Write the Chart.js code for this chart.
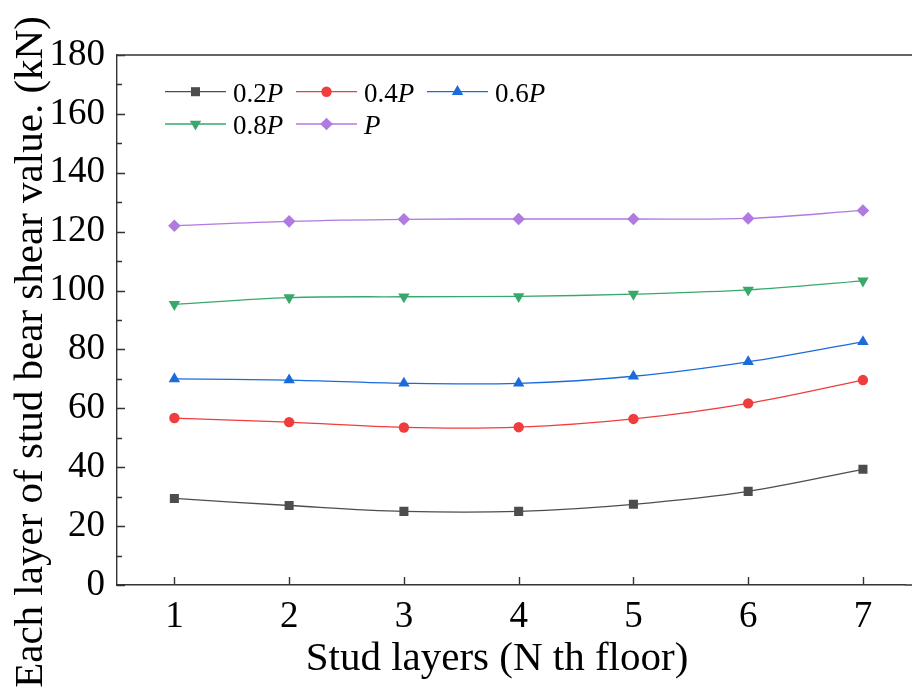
<!DOCTYPE html>
<html lang="en">
<head>
<meta charset="UTF-8">
<title>Stud layer shear</title>
<script src="https://cdn.jsdelivr.net/npm/chart.js"></script>
<style>
  html, body { margin: 0; padding: 0; background: #fff; overflow: hidden; }
  #wrap { width: 912px; height: 697px; }
</style>
</head>
<body>
<div id="wrap"><canvas id="chart" width="912" height="697"></canvas></div>
<script>
// stud layers along x, shear per layer (kN) for each load level
const layers = [1, 2, 3, 4, 5, 6, 7];
const yTicks = [0, 20, 40, 60, 80, 100, 120, 140, 160, 180];
const load02 = [29.4, 27.0, 25.0, 25.0, 27.4, 31.8, 39.3];
const load04 = [56.7, 55.3, 53.5, 53.6, 56.4, 61.7, 69.6];
const load06 = [70.0, 69.6, 68.5, 68.5, 70.9, 75.8, 82.6];
const load08 = [95.3, 97.6, 97.9, 98.0, 98.8, 100.2, 103.3];
const loadP  = [122.0, 123.5, 124.2, 124.3, 124.3, 124.5, 127.2];

const serif = '"Liberation Serif", "Times New Roman", serif';
const axisColor = '#333333';

// label is split so the P can be set in italics
const series = [
  { num: '0.2', ital: 'P', data: load02, color: '#4d4d4d', style: 'rect',     radius: 6.4, rot: 0 },
  { num: '0.4', ital: 'P', data: load04, color: '#ef3d3d', style: 'circle',   radius: 5.2, rot: 0 },
  { num: '0.6', ital: 'P', data: load06, color: '#1b6bdb', style: 'triangle', radius: 6.6, rot: 0 },
  { num: '0.8', ital: 'P', data: load08, color: '#37a96a', style: 'triangle', radius: 6.6, rot: 180 },
  { num: '',    ital: 'P', data: loadP,  color: '#b07ae0', style: 'rectRot',  radius: 6.3, rot: 0 }
];

const datasets = series.map(s => ({
  label: s.num + s.ital,
  data: layers.map((l, i) => ({ x: l, y: s.data[i] })),
  borderColor: s.color,
  backgroundColor: s.color,
  borderWidth: 1.3,
  tension: 0.35,
  pointStyle: s.style,
  pointRadius: s.radius,
  pointRotation: s.rot,
  pointBorderWidth: 0,
  pointBackgroundColor: s.color
}));

// inward ticks, top frame line, axis titles and the legend
const frame = {
  id: 'frame',
  afterDraw(chart) {
    const { ctx, chartArea: a, scales: { x, y } } = chart;
    ctx.save();
    ctx.strokeStyle = axisColor;
    ctx.lineWidth = 1.4;
    ctx.beginPath();
    ctx.moveTo(a.left, a.top);
    ctx.lineTo(chart.width, a.top);
    ctx.moveTo(a.right, a.bottom);
    ctx.lineTo(chart.width, a.bottom);
    yTicks.forEach((v, i) => {
      const py = Math.round(y.getPixelForValue(v)) + 0.5;
      ctx.moveTo(a.left, py); ctx.lineTo(a.left + 8, py);
      if (i < yTicks.length - 1) {
        const pm = Math.round(y.getPixelForValue(v + 10)) + 0.5;
        ctx.moveTo(a.left, pm); ctx.lineTo(a.left + 5, pm);
      }
    });
    layers.forEach(v => {
      const px = Math.round(x.getPixelForValue(v)) + 0.5;
      ctx.moveTo(px, a.bottom); ctx.lineTo(px, a.bottom - 8);
    });
    ctx.stroke();

    ctx.fillStyle = '#000';
    ctx.font = '41px ' + serif;
    ctx.textAlign = 'center';
    ctx.textBaseline = 'alphabetic';
    ctx.fillText('Stud layers (N th floor)', 497, 670);
    ctx.save();
    ctx.translate(42, 352);
    ctx.rotate(-Math.PI / 2);
    ctx.fillText('Each layer of stud bear shear value. (kN)', 0, 0);
    ctx.restore();

    const cols = [165, 296, 427];
    const lineY = [91.7, 124];
    const baseY = [101.7, 133.5];
    ctx.textAlign = 'left';
    series.forEach((s, i) => {
      const lx = cols[i % 3];
      const r = Math.floor(i / 3);
      ctx.strokeStyle = s.color;
      ctx.lineWidth = 1.3;
      ctx.beginPath();
      ctx.moveTo(lx, lineY[r]); ctx.lineTo(lx + 61, lineY[r]);
      ctx.stroke();
      ctx.fillStyle = s.color;
      Chart.helpers.drawPoint(ctx, { pointStyle: s.style, radius: s.radius, rotation: s.rot, borderWidth: 0 }, lx + 30.5, lineY[r]);
      ctx.fillStyle = '#000';
      let tx = lx + 68;
      ctx.font = '27px ' + serif;
      ctx.fillText(s.num, tx, baseY[r]);
      tx += ctx.measureText(s.num).width;
      ctx.font = 'italic 27px ' + serif;
      ctx.fillText(s.ital, tx, baseY[r]);
    });
    ctx.restore();
  }
};

new Chart(document.getElementById('chart'), {
  type: 'line',
  data: { datasets },
  options: {
    responsive: false,
    devicePixelRatio: 1,
    animation: false,
    layout: { padding: { top: 55, right: 0, left: 0, bottom: 0 } },
    plugins: { legend: { display: false }, tooltip: { enabled: false } },
    scales: {
      x: {
        type: 'linear',
        min: 0.5,
        max: 7.37,
        afterBuildTicks: s => { s.ticks = layers.map(v => ({ value: v })); },
        afterFit: s => { s.height = 112; },
        grid: { display: false, drawTicks: false },
        border: { display: true, color: axisColor, width: 1.4 },
        ticks: { color: '#000', padding: 10, font: { family: serif, size: 37 } }
      },
      y: {
        min: 0,
        max: 180,
        afterBuildTicks: s => { s.ticks = yTicks.map(v => ({ value: v })); },
        afterFit: s => { s.width = 117; },
        grid: { display: false, drawTicks: false },
        border: { display: true, color: axisColor, width: 1.4 },
        ticks: { color: '#000', padding: 12, font: { family: serif, size: 37 } }
      }
    }
  },
  plugins: [frame]
});
</script>
</body>
</html>
